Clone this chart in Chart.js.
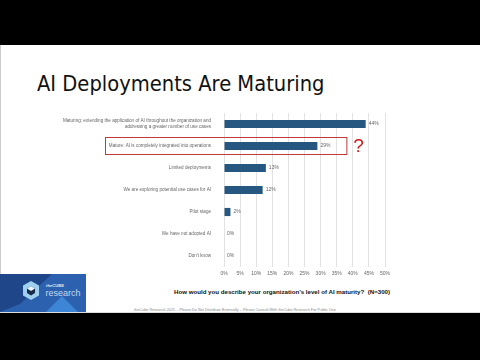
<!DOCTYPE html>
<html><head><meta charset="utf-8">
<script src="https://cdn.jsdelivr.net/npm/chart.js@4"></script>
<style>
html,body{margin:0;padding:0;width:480px;height:360px;background:#000;overflow:hidden;font-family:"Liberation Sans",Arial,sans-serif}
#slide{position:absolute;left:0;top:45px;width:480px;height:268px;background:#fff;border-left:1px solid #ccc;border-bottom:1px solid #ddd;box-sizing:border-box}
#title{position:absolute;left:37px;top:72px;font-family:"DejaVu Sans",sans-serif;font-size:21px;color:#111;white-space:nowrap;transform:scaleX(0.93);transform-origin:0 0}
#q{position:absolute;left:174px;top:288px;font-size:6.15px;font-weight:bold;color:#111;white-space:nowrap}
#foot{position:absolute;left:134px;top:307.5px;font-size:3.8px;color:#888;white-space:nowrap}
#logo{position:absolute;left:0;top:274px;width:86px;height:38px}
#c{position:absolute;left:0;top:0}
</style></head>
<body>
<div id="slide"></div>
<div id="title">AI Deployments Are Maturing</div>
<svg id="logo" viewBox="0 0 86 38" xmlns="http://www.w3.org/2000/svg">
<rect x="0" y="0" width="86" height="38" fill="#2b61ae"/>
<polygon points="0,0 52,0 20,30 0,38" fill="#20468a"/>
<polygon points="46,38 62,22 78,38" fill="#3d86d6"/>
<polygon points="31,7 39,11.5 39,21.5 31,26 23,21.5 23,11.5" fill="#9fd0f0"/>
<polygon points="31,12 35,14.5 35,19 31,21.5 27,19 27,14.5" fill="#1a2b48"/>
<polygon points="31,12 35,14.5 31,17 27,14.5" fill="#e8f4fb"/>
<text x="46" y="13" font-size="4.2" font-weight="bold" fill="#dfe8f5" font-family="Liberation Sans">theCUBE</text>
<text x="45.5" y="21.5" font-size="9" fill="#c9d8ee" font-family="Liberation Sans">research</text>
</svg>
<div id="q">How would you describe your organization’s level of AI maturity?&nbsp; (N=300)</div>
<div id="foot">theCube Research 2025 – Please Do Not Distribute Externally – Please Consult With theCube Research For Public Use</div>
<canvas id="c" width="480" height="360"></canvas>
<script>
const categories = [
  ["Maturing: extending the application of AI throughout the organization and","addressing a greater number of use cases"],
  "Mature: AI is completely integrated into operations",
  "Limited deployments",
  "We are exploring potential use cases for AI",
  "Pilot stage",
  "We have not adopted AI",
  "Don't know"
];
const values = [44, 29, 13, 12, 2, 0, 0];
const xTicks = [0,5,10,15,20,25,30,35,40,45,50];
const highlightIndex = 1;
const highlightRightValue = 38;

const valueLabels = {
  id:'valueLabels',
  afterDatasetsDraw(chart){
    const ctx = chart.ctx;
    const meta = chart.getDatasetMeta(0);
    ctx.save();
    ctx.font = '5px "Liberation Sans"';
    ctx.fillStyle = '#666';
    ctx.textBaseline = 'middle';
    meta.data.forEach((bar,i)=>{
      ctx.fillText(values[i] + '%', bar.x + 3, bar.y);
    });
    const ys = chart.scales.y, xs = chart.scales.x;
    const cy = ys.getPixelForValue(highlightIndex);
    const xr = xs.getPixelForValue(highlightRightValue);
    ctx.strokeStyle = '#c0393b';
    ctx.lineWidth = 1;
    ctx.strokeRect(105.5, cy - 8.5, xr - 105, 17);
    ctx.fillStyle = '#d01818';
    ctx.font = '19px "Liberation Sans"';
    ctx.textBaseline = 'middle';
    ctx.fillText('?', xr + 7, cy + 1);
    ctx.restore();
  }
};

new Chart(document.getElementById('c'), {
  type:'bar',
  data:{labels:categories, datasets:[{data:values, backgroundColor:'#255780', barPercentage:0.37, categoryPercentage:1}]},
  options:{
    indexAxis:'y', responsive:false, animation:false,
    layout:{padding:{left:0, right:95, top:113, bottom:73}},
    plugins:{legend:{display:false}, tooltip:{enabled:false}},
    scales:{
      x:{min:0,max:50,
        afterBuildTicks(s){ s.ticks = xTicks.map(v=>({value:v})); },
        afterFit(s){ s.height = 20; },
        grid:{color:'#e2e2e2', drawTicks:false},
        border:{display:false},
        ticks:{color:'#666', font:{size:5, family:'"Liberation Sans"'}, padding:4, callback:v=>v+'%'}},
      y:{
        afterFit(s){ s.width = 224; },
        grid:{display:false}, border:{display:false},
        ticks:{color:'#666', font:{size:4.6, family:'"Liberation Sans"', lineHeight:1.35}, padding:5}}
    }
  },
  plugins:[valueLabels]
});
</script>
</body></html>
